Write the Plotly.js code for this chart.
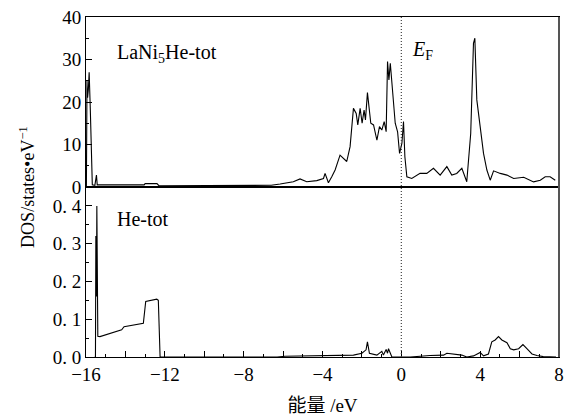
<!DOCTYPE html>
<html><head><meta charset="utf-8">
<script src="https://cdn.plot.ly/plotly-3.0.1.min.js"></script>
<style>html,body{margin:0;padding:0;background:#fff}#c{width:578px;height:417px}</style>
</head><body><div id="c"></div>
<script>
// LaNi5He total DOS (top panel)
const E_tot = [-15.98,-15.95,-15.92,-15.88,-15.84,-15.78,-15.74,-15.68,-15.55,-15.47,-15.43,-15.39,-14.5,-13.6,-13.05,-13.0,-12.6,-12.4,-12.3,-10,-7.0,-6.6,-6.15,-5.48,-5.14,-4.80,-4.29,-3.95,-3.87,-3.70,-3.53,-3.36,-3.11,-2.94,-2.77,-2.60,-2.52,-2.43,-2.29,-2.21,-2.09,-1.99,-1.89,-1.82,-1.72,-1.62,-1.55,-1.41,-1.24,-1.11,-0.99,-0.87,-0.77,-0.70,-0.63,-0.56,-0.46,-0.31,-0.19,-0.09,0.03,0.11,0.18,0.28,0.53,0.95,1.29,1.63,1.97,2.31,2.56,2.81,3.07,3.32,3.52,3.66,3.73,3.83,4.00,4.17,4.34,4.51,4.68,5.02,5.36,5.70,6.21,6.71,7.05,7.30,7.55,7.81];
const dos_tot = [0,25,21,23,27,18,8,0.5,0.4,2.8,0.5,0.5,0.5,0.5,0.5,0.8,0.8,0.8,0.3,0.3,0.3,0.4,0.7,1.25,1.9,1.25,1.5,2.0,3.2,1.0,2.4,4.0,7.5,6.7,6.0,9.5,14.2,18.5,17.3,14.6,18.5,15,18.1,15.8,22.2,17,15,14.6,11,14.2,13.4,15.4,13,29.5,25.2,29.1,22.8,15,13,7.9,10.3,15.4,7.1,2.4,2.0,3.2,3.2,4.4,2.8,4.8,2.8,3.2,4.4,1.25,12.6,33.8,35,20.5,14.2,7.9,4.0,1.6,3.8,3.2,2.8,2.0,2.3,1.2,1.6,2.4,2.4,1.6];
// He total DOS (bottom panel)
const E_he = [-15.56,-15.52,-15.50,-15.47,-15.45,-15.43,-15.40,-15.29,-14.19,-14.07,-13.09,-12.97,-12.41,-12.33,-12.24,-10,-6.3,-5.9,-2.43,-2.0,-1.79,-1.72,-1.62,-1.24,-1.08,-0.99,-0.91,-0.77,-0.70,-0.65,-0.48,0.45,1.46,2.14,2.31,2.65,3.07,3.32,3.66,4.0,4.17,4.42,4.59,4.76,4.93,5.10,5.36,5.53,5.70,5.95,6.17,6.37,6.63,6.88,7.2,7.85];
const dos_he = [0,0,0.32,0.16,0.40,0.20,0.055,0.054,0.072,0.08,0.089,0.147,0.153,0.15,0,0,0,0.002,0.005,0.01,0.019,0.04,0.01,0.005,0.01,0.015,0.005,0.02,0.01,0.022,0,0,0.004,0.005,0.01,0.007,0.005,0,0.003,0.012,0.003,0.008,0.04,0.045,0.054,0.045,0.038,0.022,0.019,0.022,0.033,0.022,0.008,0.004,0.001,0];

const xTickVals = [-16,-14,-12,-10,-8,-6,-4,-2,0,2,4,6,8];
const xTickText = ['\u221216','','\u221212','','\u22128','','\u22124','','0','','4','','8'];
const yTopVals = [0,10,20,30,40];
const yTopText = ['0','10','20','30','40'];
const yBotVals = [0,0.1,0.2,0.3,0.4];
const yBotText = ['0. 0','0. 1','0. 2','0. 3','0. 4'];

const serif = 'Liberation Serif';
const cjk = 'Liberation Serif, Noto Sans CJK SC';
const lineStyle = {color:'#000', width:1.1};

const traces = [
  {x:E_tot, y:dos_tot, xaxis:'x2', yaxis:'y2', mode:'lines', line:lineStyle, hoverinfo:'skip'},
  {x:E_he, y:dos_he, xaxis:'x', yaxis:'y', mode:'lines', line:lineStyle, hoverinfo:'skip'}
];

const axBase = {showgrid:false, zeroline:false, showline:true, linecolor:'#000', linewidth:1, mirror:true};

const layout = {
  width:578, height:417,
  margin:{l:86, r:19, t:17, b:60},
  paper_bgcolor:'#fff', plot_bgcolor:'#fff',
  showlegend:false,
  font:{family:serif, size:16, color:'#000'},
  xaxis:Object.assign({}, axBase, {
    range:[-16,8], anchor:'y', domain:[0,1],
    tickmode:'array', tickvals:xTickVals, ticktext:xTickText,
    ticks:'inside', ticklen:6, tickcolor:'#000',
    minor:{dtick:1, ticks:'inside', ticklen:3, tickcolor:'#000'},
    tickfont:{family:serif, size:19},
    title:{text:'能量 /eV', font:{family:cjk, size:19}, standoff:14}
  }),
  yaxis:Object.assign({}, axBase, {
    range:[0,0.45], domain:[0,0.5], anchor:'x',
    tickmode:'array', tickvals:yBotVals, ticktext:yBotText,
    ticks:'inside', ticklen:6, tickcolor:'#000',
    minor:{tickvals:[0.05,0.15,0.25,0.35], ticks:'inside', ticklen:3, tickcolor:'#000'},
    tickfont:{family:serif, size:19}
  }),
  xaxis2:Object.assign({}, axBase, {
    range:[-16,8], anchor:'y2', matches:'x', showticklabels:false, ticks:''
  }),
  yaxis2:Object.assign({}, axBase, {
    range:[0,40], domain:[0.5,1], anchor:'x2',
    tickmode:'array', tickvals:yTopVals, ticktext:yTopText,
    ticks:'inside', ticklen:6, tickcolor:'#000',
    minor:{dtick:5, ticks:'inside', ticklen:3, tickcolor:'#000'},
    tickfont:{family:serif, size:19}
  }),
  shapes:[
    {type:'line', xref:'x', yref:'paper', x0:0, x1:0, y0:0, y1:1, line:{color:'#444', width:1.2, dash:'1px,2px'}},
    {type:'line', xref:'paper', yref:'paper', x0:1, x1:1, y0:0, y1:1, line:{color:'#555', width:2}}
  ],
  annotations:[
    {xref:'x2', yref:'y2', x:-14.55, y:31.5, xanchor:'left', yanchor:'middle', showarrow:false,
     text:'LaNi<sub>5</sub>He-tot', font:{family:serif, size:20}},
    {xref:'x2', yref:'y2', x:0.45, y:32.2, xanchor:'left', yanchor:'middle', showarrow:false,
     text:'<i>E</i><sub>F</sub>', font:{family:serif, size:20}},
    {xref:'x', yref:'y', x:-14.55, y:0.366, xanchor:'left', yanchor:'middle', showarrow:false,
     text:'He-tot', font:{family:serif, size:20}},
    {xref:'paper', yref:'paper', x:-0.125, y:0.5, xanchor:'center', yanchor:'middle', showarrow:false,
     textangle:-90, text:'DOS/states\u2022eV<sup>\u22121</sup>', font:{family:serif, size:18}}
  ]
};

Plotly.newPlot('c', traces, layout, {staticPlot:true, displayModeBar:false});
</script></body></html>
